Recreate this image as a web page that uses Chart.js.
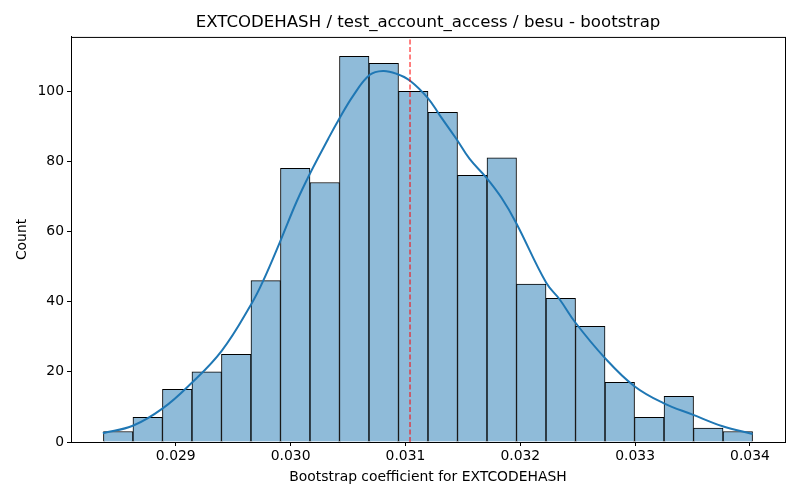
<!DOCTYPE html>
<html lang="en">
<head>
  <meta charset="UTF-8">
  <title>EXTCODEHASH bootstrap</title>
  <style>
    body { margin: 0; background: #fff; }
  </style>
</head>
<body>
  <canvas id="myChart" width="800" height="500"></canvas>

  <script src="https://cdn.jsdelivr.net/npm/chart.js"></script>
  <script>
    // histogram: 22 bins between binLo and binHi
    const binLo = 0.0283704;
    const binHi = 0.0340226;
    const counts = [3, 7, 15, 20, 25, 46, 78, 74, 110, 108, 100, 94, 76, 81, 45, 41, 33, 17, 7, 13, 4, 3];

    // kde curve
    const kdeX = [0.028365, 0.028631, 0.028883, 0.029124, 0.029400, 0.029661, 0.029762, 0.029907,
                  0.030052, 0.030168, 0.030327, 0.030414, 0.030544, 0.030690, 0.030805, 0.030922,
                  0.031040, 0.031197, 0.031298, 0.031444, 0.031559, 0.031704, 0.031835, 0.031962,
                  0.032226, 0.032342, 0.032481, 0.032736, 0.032994, 0.033246, 0.033501, 0.033762, 0.034023];
    const kdeY = [2.5, 4.7, 9.5, 16.4, 26, 39.5, 46, 57,
                  68.5, 76.5, 86.4, 91.6, 98.7, 104.7, 105.8, 105.0,
                  103, 98, 93.2, 86.4, 80.7, 75.4, 69.7, 62.6,
                  45.4, 40.7, 34, 24, 15.9, 11.1, 7.8, 4.5, 2.3];

    const meanLine = 0.03104;
    const xTicks = [0.029, 0.030, 0.031, 0.032, 0.033, 0.034];
    const yTicks = [0, 20, 40, 60, 80, 100];
    const xMin = 0.0280878, xMax = 0.0343052;
    const yMax = 115.5;

    const binW = (binHi - binLo) / counts.length;
    const barData = counts.map((c, i) => ({ x: binLo + binW * (i + 0.5), y: c }));
    const kdeData = kdeX.map((x, i) => ({ x: x, y: kdeY[i] }));

    Chart.defaults.font.family = "'DejaVu Sans', sans-serif";
    Chart.defaults.color = '#000';

    // all four spines like matplotlib
    const frame = {
      id: 'frame',
      afterDatasetsDraw(chart) {
        const a = chart.chartArea, ctx = chart.ctx;
        ctx.save();
        ctx.strokeStyle = '#000';
        ctx.lineWidth = 1;
        ctx.strokeRect(a.left + 0.5, a.top + 0.5, a.right - a.left, a.bottom - a.top);
        ctx.restore();
      }
    };

    const config = {
      type: 'bar',
      data: {
        datasets: [
          {
            type: 'bar',
            data: barData,
            backgroundColor: '#8fbbd9',
            borderColor: '#000',
            borderWidth: 1,
            barPercentage: 1,
            categoryPercentage: 1,
            grouped: false,
            order: 3
          },
          {
            type: 'line',
            data: kdeData,
            borderColor: '#1f77b4',
            borderWidth: 2,
            pointRadius: 0,
            tension: 0.4,
            fill: false,
            order: 2
          },
          {
            type: 'line',
            data: [{ x: meanLine, y: 0 }, { x: meanLine, y: yMax }],
            borderColor: '#ff0000',
            borderWidth: 1,
            borderDash: [5, 2.5],
            pointRadius: 0,
            fill: false,
            order: 1
          }
        ]
      },
      options: {
        responsive: false,
        animation: false,
        devicePixelRatio: 1,
        layout: { padding: { left: 0, right: 15, top: 0, bottom: 0 } },
        plugins: {
          legend: { display: false },
          tooltip: { enabled: false },
          title: {
            display: true,
            fullSize: false,
            text: 'EXTCODEHASH / test_account_access / besu - bootstrap',
            font: { size: 16.6, weight: 'normal' },
            padding: { top: 13, bottom: 4 }
          }
        },
        scales: {
          x: {
            type: 'linear',
            offset: false,
            min: xMin,
            max: xMax,
            afterBuildTicks: s => { s.ticks = xTicks.map(v => ({ value: v })); },
            afterFit: s => { s.height = 58; },
            ticks: {
              font: { size: 13.9 },
              padding: 2,
              maxRotation: 0,
              callback: v => v.toFixed(3)
            },
            grid: { drawOnChartArea: false, offset: false, tickLength: 4, color: '#000' },
            border: { color: '#000' },
            title: {
              display: true,
              text: 'Bootstrap coefficient for EXTCODEHASH',
              font: { size: 13.9 },
              padding: { top: 4, bottom: 14 }
            }
          },
          y: {
            min: 0,
            max: yMax,
            afterBuildTicks: s => { s.ticks = yTicks.map(v => ({ value: v })); },
            afterFit: s => { s.width = 71; },
            ticks: { font: { size: 13.9 }, padding: 3 },
            grid: { drawOnChartArea: false, tickLength: 4, color: '#000' },
            border: { color: '#000' },
            title: {
              display: true,
              text: 'Count',
              font: { size: 13.9 },
              padding: { top: 14, bottom: 4 }
            }
          }
        }
      },
      plugins: [frame]
    };

    const myChart = new Chart(document.getElementById('myChart'), config);
  </script>
</body>
</html>
